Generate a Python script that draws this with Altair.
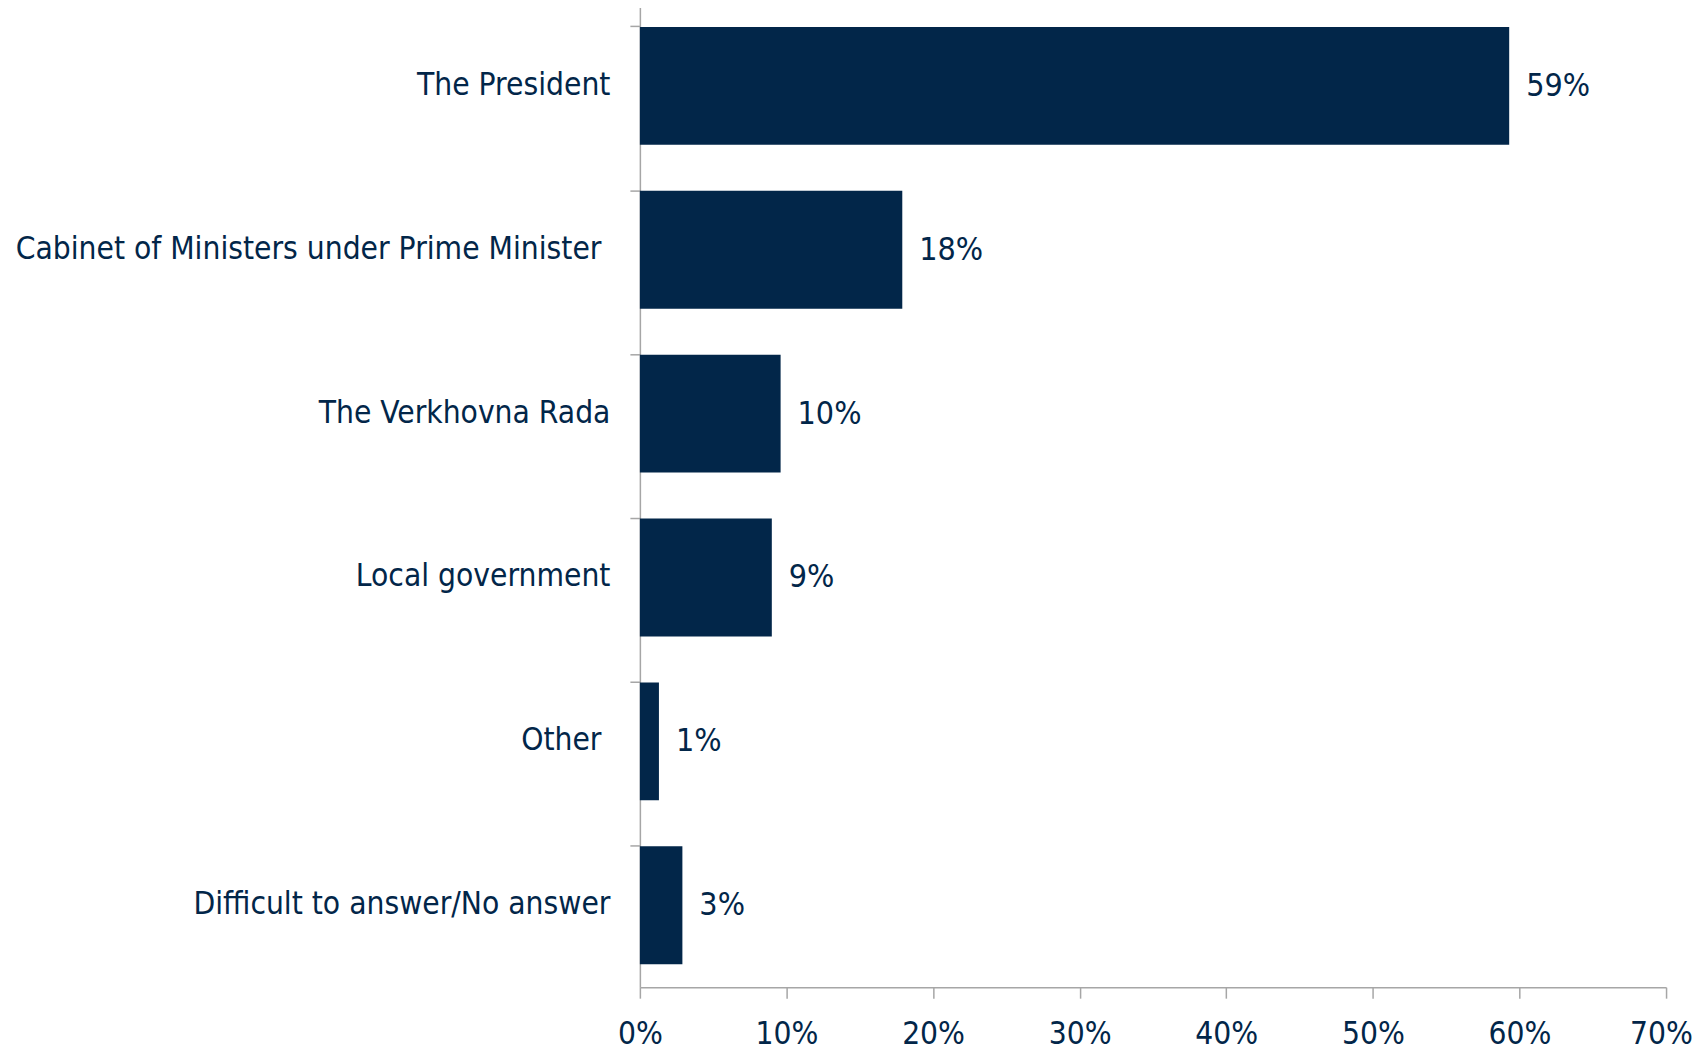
import altair as alt
import pandas as pd

categories = [
    "The President",
    "Cabinet of Ministers under Prime Minister\u00a0\u200b",
    "The Verkhovna Rada",
    "Local government",
    "Other\u00a0\u200b",
    "Difficult to answer/No answer",
]
values = [59.3, 17.9, 9.6, 9.0, 1.3, 2.9]
value_labels = ["59%", "18%", "10%", "9%", "1%", "3%"]
x_ticks = [0, 10, 20, 30, 40, 50, 60, 70]

df = pd.DataFrame({"cat": categories, "val": values, "lbl": value_labels})

NAVY = "#022649"
GRAY = "#A6A6A6"
FONT = "DejaVu Sans Condensed, DejaVu Sans, sans-serif"

y_enc = alt.Y(
    "cat:N",
    sort=categories,
    title=None,
    scale=alt.Scale(paddingInner=0.28, paddingOuter=0.14),
    axis=alt.Axis(
        domainColor=GRAY,
        domainWidth=1.5,
        tickColor=GRAY,
        tickWidth=1.5,
        tickSize=10,
        bandPosition=0,
        labelFont=FONT,
        labelFontSize=31.5,
        labelColor=NAVY,
        labelPadding=20,
        labelLimit=1000,
    ),
)

x_enc = alt.X(
    "val:Q",
    title=None,
    scale=alt.Scale(domain=[0, 70], nice=False),
    axis=alt.Axis(
        values=x_ticks,
        labelExpr="datum.value + '%'",
        labelFlush=False,
        labelOffset={"condition": {"test": "datum.value == 70", "value": -5}, "value": 0},
        grid=False,
        domainColor=GRAY,
        domainWidth=1.5,
        tickColor=GRAY,
        tickWidth=1.5,
        tickSize=11,
        labelFont=FONT,
        labelFontSize=31.5,
        labelColor=NAVY,
        labelPadding=20,
    ),
)

bars = alt.Chart(df).mark_bar(color=NAVY).encode(x=x_enc, y=y_enc)

texts = alt.Chart(df).mark_text(
    align="left", baseline="middle", dx=17, font=FONT, fontSize=32, color=NAVY
).encode(x="val:Q", y=alt.Y("cat:N", sort=categories), text="lbl:N")

chart = (
    alt.layer(bars, texts)
    .properties(
        width=1028,
        height=985,
        background="white",
        autosize=alt.AutoSizeParams(type="none"),
        padding={"left": 633, "top": -5, "right": 30, "bottom": 65},
    )
    .configure_view(stroke=None, strokeWidth=0)
)

chart.save("out.html", embed_options={"renderer": "svg", "actions": False})
